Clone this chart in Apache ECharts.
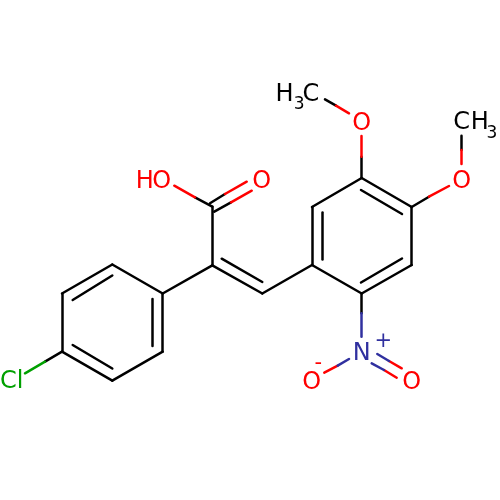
<!DOCTYPE html>
<html>
<head>
<meta charset="utf-8">
<style>html,body{margin:0;padding:0;background:#fff}#c{width:500px;height:500px}</style>
<script src="https://cdn.jsdelivr.net/npm/echarts@6/dist/echarts.min.js"></script>
</head>
<body>
<div id="c"></div>
<script>
var blackBonds = [
  [361.7,178,411.7,207],[411.7,207,411.7,265],[411.7,265,361.7,293.5],[361.7,293.5,312,265],[312,265,312,207],[312,207,361.7,178],
  [361,190,402,214],[322,212.5,322,259.5],[361,282.5,402,258.5],
  [312,265,262.3,293.5],[262.3,293.5,212.3,265.3],[221.7,258.7,262.3,282],
  [212.3,265.3,212.3,206.7],[212.3,265.3,162.7,293.5],
  [162.7,293.5,112.3,264.5],[112.3,264.5,62,293.5],[62,293.5,62,351.7],[62,351.7,112.3,380.7],[112.3,380.7,162.7,351.7],[162.7,351.7,162.7,293.5],
  [72.7,300,112.3,275.5],[152.3,299,152.3,346],[72.7,345,112.3,368.5],
  [62,351.7,45,361.7],
  [361.7,178,361.7,156.7],[336,105.7,325,99.3],
  [411.7,207,429,196.7],[461.7,150,461.7,135.7],
  [361.7,293.5,361.7,313.3],
  [212.3,206.7,195,197.3],[210,203.3,225,194],[214.3,211.7,231,202.3]
];
var redBonds = [
  [361.7,156.7,361.7,136],[349,113.3,336,105.7],
  [429,196.7,449,186],[461.7,164,461.7,150],
  [337.7,365.7,324.3,372.7],[389,361,401.7,368.3],[384,370,396.7,377.7],
  [195,197.3,174.3,185.7],[225,194,246.7,181.7],[231,202.3,251.7,190.7]
];
var blueBonds = [
  [361.7,313.3,361.7,336.7],[349,359,337.7,365.7],[377.3,354,389,361],[371.7,363.3,384,370]
];
var greenBonds = [
  [45,361.7,25,373.3]
];
var blackLabels = [['H',284.5,93],['C',311,93],['C',461.7,121.7],['H',479.7,121.7]];
var blackSubs = [['3',299.2,103],['3',492,131.7]];
var redLabels = [['O',361.7,122.3],['O',461.7,180],['H',144.7,180],['O',161.7,180],['O',261.7,180],['O',311.7,381],['O',411.7,381]];
var blueLabels = [['N',361.7,352.7]];
var greenLabels = [['Cl',11.7,380.7]];
var redCharges = [['-',318.3,361.7]];
var blueCharges = [['+',383.3,340]];

var BLACK='#000000',RED='#ff0000',BLUE='#30309f',GREEN='#00a000';
function bondSeries(list,color){
  return {type:'lines',coordinateSystem:'cartesian2d',polyline:false,silent:true,animation:false,
    lineStyle:{color:color,width:2.5,opacity:1,cap:'round',curveness:0},
    data:list.map(function(b){return {coords:[[b[0],b[1]],[b[2],b[3]]]};})};
}
function labelSeries(list,color,size){
  return {type:'scatter',coordinateSystem:'cartesian2d',symbolSize:1,silent:true,animation:false,
    itemStyle:{color:'rgba(0,0,0,0)',opacity:1},z:5,
    label:{show:true,position:'inside',align:'center',verticalAlign:'middle',color:color,opacity:1,offset:[0,1.5],
      fontFamily:'DejaVu Sans',fontSize:size,formatter:function(p){return p.data[2];}},
    data:list.map(function(l){return [l[1],l[2],l[0]];})};
}
var chart=echarts.init(document.getElementById('c'),null,{renderer:'canvas'});
chart.setOption({
  animation:false,backgroundColor:'#ffffff',
  grid:{left:0,right:0,top:0,bottom:0},
  xAxis:{type:'value',min:0,max:500,show:false},
  yAxis:{type:'value',min:0,max:500,inverse:true,show:false},
  series:[
    bondSeries(blackBonds,BLACK),bondSeries(redBonds,RED),bondSeries(blueBonds,BLUE),bondSeries(greenBonds,GREEN),
    labelSeries(blackLabels,BLACK,24),labelSeries(blackSubs,BLACK,17),
    labelSeries(redLabels,RED,24),labelSeries(blueLabels,BLUE,24),labelSeries(greenLabels,GREEN,24),
    labelSeries(redCharges,RED,21),labelSeries(blueCharges,BLUE,21)
  ]
});
</script>
</body>
</html>
